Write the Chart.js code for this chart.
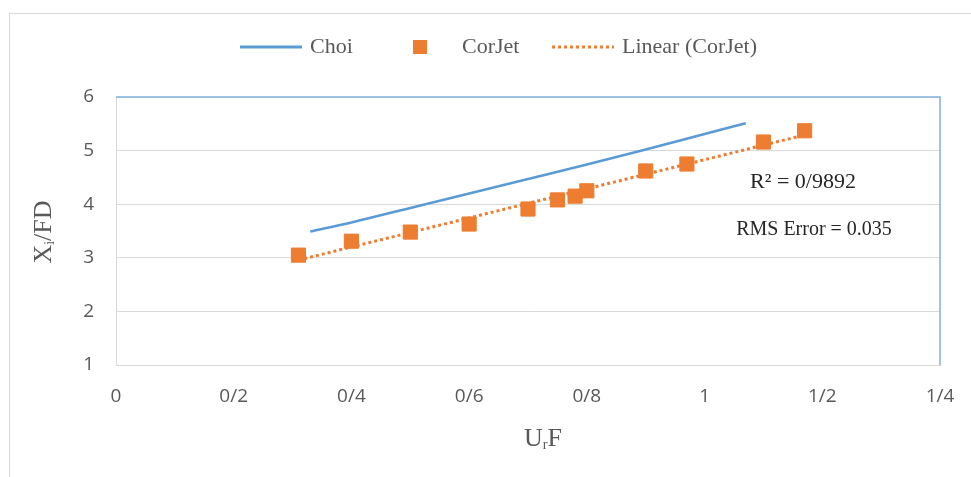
<!DOCTYPE html>
<html>
<head>
<meta charset="utf-8">
<script src="https://cdn.jsdelivr.net/npm/chart.js@4.4.1/dist/chart.umd.min.js"></script>
<style>
  html, body { margin: 0; padding: 0; background: #fff; }
  #wrap { position: relative; width: 971px; height: 477px; overflow: hidden; }
  #frame { position: absolute; left: 9px; top: 13px; width: 980px; height: 480px; border: 1px solid #d9d9d9; }
  canvas { position: absolute; left: 0; top: 0; }
</style>
</head>
<body>
<div id="wrap">
  <div id="frame"></div>
  <canvas id="chart" width="971" height="477"></canvas>
</div>
<script>
// data
const corjetX = [0.31, 0.40, 0.50, 0.60, 0.70, 0.75, 0.78, 0.80, 0.90, 0.97, 1.10, 1.17];
const corjetY = [3.05, 3.31, 3.48, 3.63, 3.91, 4.08, 4.15, 4.25, 4.62, 4.75, 5.16, 5.37];
const choiX = [0.33, 0.40, 0.50, 0.60, 0.70, 0.80, 0.90, 1.00, 1.07];
const choiY = [3.49, 3.66, 3.93, 4.20, 4.47, 4.74, 5.02, 5.31, 5.51];
const xTickLabels = ['0', '0/2', '0/4', '0/6', '0/8', '1', '1/2', '1/4'];
const r2Text = 'R\u00B2 = 0/9892';
const rmsText = 'RMS Error = 0.035';

const BLUE = '#5B9BD5';
const ORANGE = '#ED7D31';
const GRID = '#d9d9d9';
const SERIF = "'Liberation Serif', 'Times New Roman', serif";
const TICK_FONT = { family: "'Open Sans', sans-serif", size: 19 };

// least squares line for the trend
function linearFit(xs, ys) {
  const n = xs.length;
  const mx = xs.reduce((a, b) => a + b, 0) / n;
  const my = ys.reduce((a, b) => a + b, 0) / n;
  let sxy = 0, sxx = 0;
  for (let i = 0; i < n; i++) {
    sxy += (xs[i] - mx) * (ys[i] - my);
    sxx += (xs[i] - mx) * (xs[i] - mx);
  }
  const slope = sxy / sxx;
  return { slope, intercept: my - slope * mx };
}
const fit = linearFit(corjetX, corjetY);
const trendX = [Math.min(...corjetX), Math.max(...corjetX)];
const trendPts = trendX.map(x => ({ x, y: fit.intercept + fit.slope * x }));

const toPts = (xs, ys) => xs.map((x, i) => ({ x, y: ys[i] }));

// legend, axis titles and the fit labels
const overlay = {
  id: 'overlay',
  afterDraw(chart) {
    const ctx = chart.ctx;
    const ca = chart.chartArea;
    ctx.save();

    // blue top and right edges of the plot box
    ctx.strokeStyle = '#7fb0dd';
    ctx.lineWidth = 1.5;
    ctx.beginPath();
    ctx.moveTo(ca.left, ca.top);
    ctx.lineTo(ca.right, ca.top);
    ctx.lineTo(ca.right, ca.bottom);
    ctx.stroke();

    // legend
    const ly = 47;
    ctx.font = '22px ' + SERIF;
    ctx.fillStyle = '#595959';
    ctx.textBaseline = 'middle';
    ctx.textAlign = 'left';
    ctx.strokeStyle = BLUE;
    ctx.lineWidth = 3;
    ctx.beginPath();
    ctx.moveTo(240, ly); ctx.lineTo(302, ly);
    ctx.stroke();
    ctx.fillText('Choi', 310, ly);
    ctx.fillStyle = ORANGE;
    ctx.fillRect(413, ly - 7, 14, 14);
    ctx.fillStyle = '#595959';
    ctx.fillText('CorJet', 462, ly);
    ctx.strokeStyle = ORANGE;
    ctx.setLineDash([3, 3]);
    ctx.beginPath();
    ctx.moveTo(552, ly); ctx.lineTo(614, ly);
    ctx.stroke();
    ctx.setLineDash([]);
    ctx.fillText('Linear (CorJet)', 622, ly);

    // fit labels
    ctx.textAlign = 'center';
    ctx.fillStyle = '#262626';
    ctx.font = '22px ' + SERIF;
    ctx.fillText(r2Text, 803, 182);
    ctx.font = '20px ' + SERIF;
    ctx.fillText(rmsText, 814, 230);

    // axis titles with subscripts
    ctx.fillStyle = '#595959';
    drawSub(ctx, 'U', 'r', 'F', 543, 437, 0);
    drawSub(ctx, 'X', 'i', '/FD', 42, 232, -Math.PI / 2);
    ctx.restore();
  }
};

function drawSub(ctx, a, sub, b, cx, cy, rot) {
  const big = '26px ' + SERIF, small = '14px ' + SERIF;
  ctx.font = big; const wa = ctx.measureText(a).width; const wb = ctx.measureText(b).width;
  ctx.font = small; const ws = ctx.measureText(sub).width;
  const total = wa + ws + wb;
  ctx.save();
  ctx.translate(cx, cy);
  ctx.rotate(rot);
  ctx.textAlign = 'left';
  ctx.textBaseline = 'alphabetic';
  let x = -total / 2;
  const base = 9;
  ctx.font = big; ctx.fillText(a, x, base); x += wa;
  ctx.font = small; ctx.fillText(sub, x, base + 3); x += ws;
  ctx.font = big; ctx.fillText(b, x, base);
  ctx.restore();
}

new Chart(document.getElementById('chart'), {
  type: 'scatter',
  data: {
    datasets: [
      {
        label: 'Choi',
        type: 'line',
        data: toPts(choiX, choiY),
        borderColor: BLUE,
        borderWidth: 2.5,
        pointRadius: 0,
        cubicInterpolationMode: 'monotone',
        fill: false
      },
      {
        label: 'CorJet',
        data: toPts(corjetX, corjetY),
        backgroundColor: ORANGE,
        borderColor: ORANGE,
        pointStyle: 'rect',
        pointRadius: 10,
        pointHoverRadius: 10
      },
      {
        label: 'Linear (CorJet)',
        type: 'line',
        data: trendPts,
        borderColor: ORANGE,
        borderWidth: 3,
        borderDash: [3, 3],
        pointRadius: 0,
        fill: false
      }
    ]
  },
  options: {
    responsive: false,
    animation: false,
    layout: { padding: { left: 0, right: 31, top: 97, bottom: 0 } },
    plugins: {
      legend: { display: false },
      tooltip: { enabled: false }
    },
    scales: {
      x: {
        type: 'linear',
        min: 0,
        max: 1.4,
        afterFit: s => { s.height = 112; s.paddingLeft = 0; s.paddingRight = 0; },
        ticks: {
          stepSize: 0.2,
          padding: 20,
          color: '#595959',
          font: TICK_FONT,
          callback: (v, i) => xTickLabels[i]
        },
        grid: { display: false, drawTicks: false },
        border: { color: GRID, width: 1 }
      },
      y: {
        min: 1,
        max: 6,
        afterFit: s => { s.width = 116; s.paddingTop = 0; s.paddingBottom = 0; },
        ticks: {
          stepSize: 1,
          padding: 22,
          color: '#595959',
          font: TICK_FONT
        },
        grid: { color: GRID, drawTicks: false },
        border: { color: GRID, width: 1 }
      }
    }
  },
  plugins: [overlay]
});
</script>
</body>
</html>
